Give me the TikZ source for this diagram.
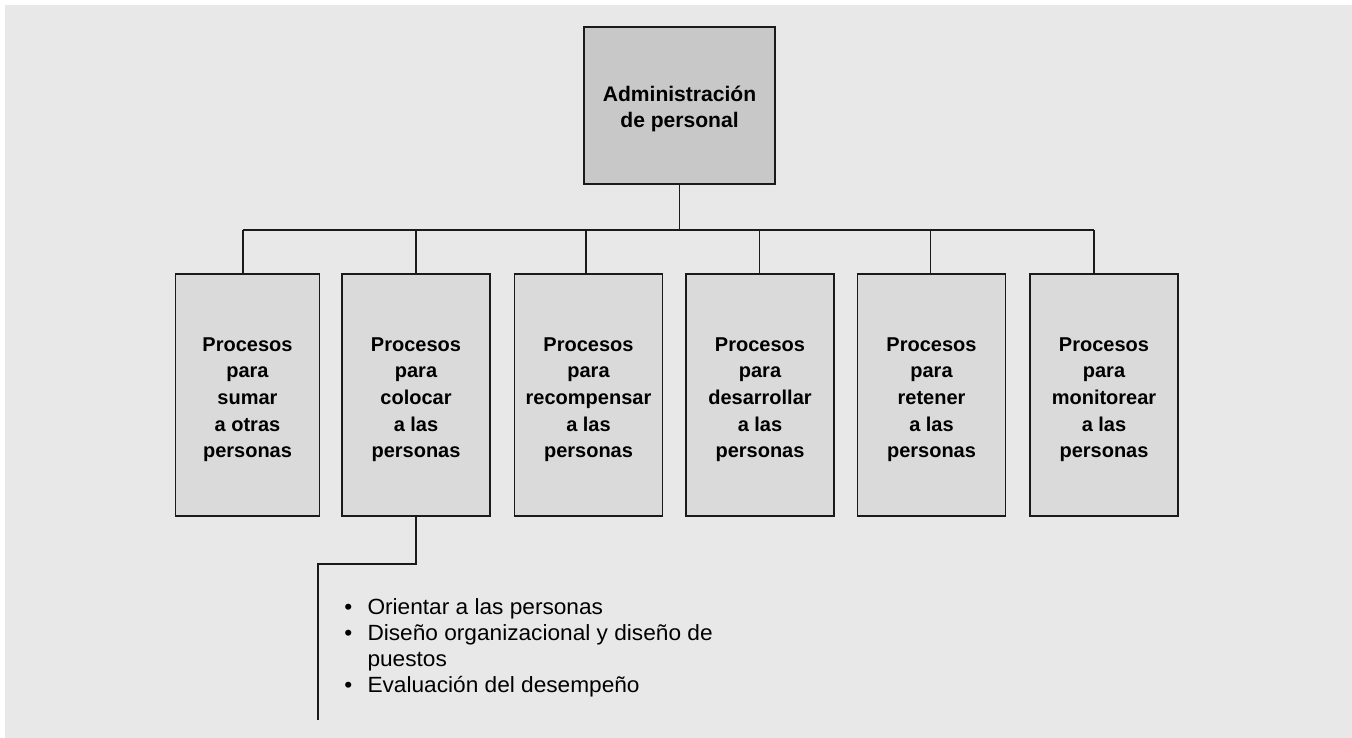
\documentclass[tikz,border=0pt]{standalone}
\usepackage{fontspec}
\setmainfont{Liberation Sans}
\newfontfamily\listfont[FakeStretch=1.03]{Liberation Sans}
\definecolor{bgc}{HTML}{E8E8E8}
\definecolor{topc}{HTML}{C8C8C8}
\definecolor{boxc}{HTML}{DADADA}
\definecolor{linec}{HTML}{1A1A1A}
\newcommand{\lowtext}[1]{\raisebox{-3pt}[\height][\depth]{\begin{tabular}{@{}c@{}}#1\end{tabular}}}
\begin{document}
\begin{tikzpicture}[x=0.75pt,y=-0.75pt,
  topbox/.style={draw=linec, line width=1pt, fill=topc, minimum width=143.25pt, minimum height=117.75pt,
    inner sep=0pt, font=\fontsize{15.8}{19.5}\selectfont\bfseries},
  procbox/.style={draw=linec, line width=1pt, fill=boxc, minimum width=111pt, minimum height=181.5pt,
    inner sep=0pt, font=\fontsize{15}{20}\selectfont\bfseries},
  conn/.style={draw=linec, line width=1pt}]
\useasboundingbox (0,0) rectangle (1352,738);
\fill[bgc] (5,5) rectangle (1352,738);
\node[topbox] (top) at (679.5,105.5) {\lowtext{Administración\\de personal}};
\node[procbox, minimum width=108pt] (b1) at (247.5,395) {\lowtext{Procesos\\para\\sumar\\a otras\\personas}};
\node[procbox] (b2) at (416,395) {\lowtext{Procesos\\para\\colocar\\a las\\personas}};
\node[procbox] (b3) at (588.5,395) {\lowtext{Procesos\\para\\recompensar\\a las\\personas}};
\node[procbox] (b4) at (760,395) {\lowtext{Procesos\\para\\desarrollar\\a las\\personas}};
\node[procbox] (b5) at (931.5,395) {\lowtext{Procesos\\para\\retener\\a las\\personas}};
\node[procbox] (b6) at (1104,395) {\lowtext{Procesos\\para\\monitorear\\a las\\personas}};
\coordinate (c1) at (243,230);
\coordinate (c2) at (416,230);
\coordinate (c3) at (586,230);
\coordinate (c4) at (759.5,230);
\coordinate (c5) at (930.5,230);
\coordinate (c6) at (1094,230);
\draw[conn] (top.south) -- (top.south |- c1);
\draw[conn] (c1) -- (c6);
\foreach \i in {1,...,6} {\draw[conn] (c\i) -- (c\i |- b\i.north);}
\coordinate (k1) at (416,564);
\coordinate (k2) at (318,564);
\coordinate (k3) at (318,720);
\draw[conn] (b2.south) -- (k1) -- (k2) -- (k3);
\node[anchor=base west, inner sep=0pt, font=\listfont\fontsize{16.5}{19.7}\selectfont] (list) at (344,614)
  {\begin{tabular}[t]{@{}l@{\hspace{11.5pt}}l@{}}
   \textbullet & Orientar a las personas\\
   \textbullet & Diseño organizacional y diseño de\\
               & puestos\\
   \textbullet & Evaluación del desempeño
   \end{tabular}};
\end{tikzpicture}
\end{document}
